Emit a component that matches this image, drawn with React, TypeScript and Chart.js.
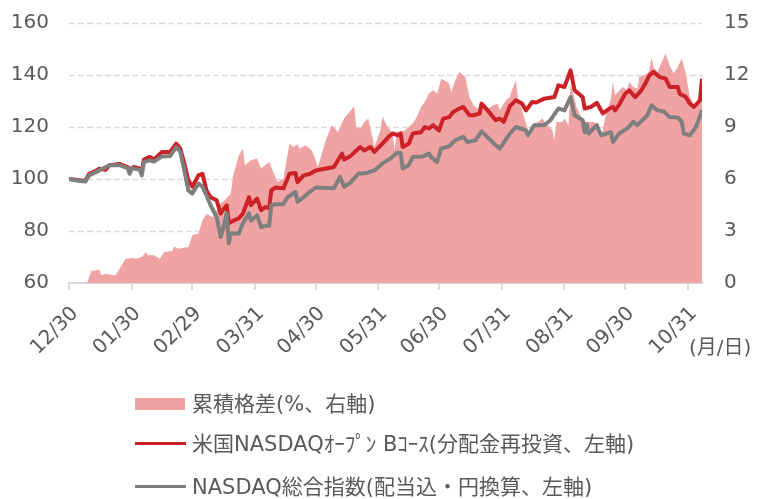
import React, { useEffect, useRef } from "react";
import { Chart, registerables } from "chart.js";

Chart.register(...registerables);

// x positions are calendar-day offsets from 12/30
const tickDays = [0, 31, 61, 92, 122, 153, 183, 214, 245, 275, 306];
const tickLabels = ["12/30", "01/30", "02/29", "03/31", "04/30", "05/31", "06/30", "07/31", "08/31", "09/30", "10/31"];

const fundDays = [0, 4, 8, 10, 13, 15, 18, 20, 25, 29, 30, 32, 35, 36, 37, 40, 42, 46, 50, 53, 55, 57, 59, 61, 64, 66, 68, 70, 73, 75, 76, 78, 79, 80, 84, 86, 89, 90, 93, 95, 97, 99, 100, 102, 106, 108, 109, 112, 113, 116, 119, 122, 131, 135, 136, 139, 144, 146, 149, 151, 155, 158, 160, 163, 164, 165, 168, 170, 174, 176, 178, 180, 183, 185, 188, 190, 193, 195, 198, 200, 203, 204, 207, 211, 213, 215, 218, 221, 224, 226, 229, 231, 235, 240, 242, 245, 248, 250, 254, 255, 258, 261, 264, 267, 269, 270, 272, 275, 277, 280, 283, 285, 287, 289, 292, 295, 297, 301, 302, 305, 307, 309, 312, 313];
const fundValues = [100, 99.6, 99.2, 102, 103, 104, 103.5, 105.3, 105.8, 104.6, 103.3, 104.6, 104, 102.5, 107.5, 108.5, 107.5, 110.4, 110.4, 113.6, 111.7, 106, 99.5, 97, 101.4, 102, 95.6, 93, 91.8, 86.7, 88, 89.9, 83, 83.5, 84.9, 86.7, 93, 89.9, 92.5, 88, 89.2, 88.8, 95.6, 96.7, 96.4, 100.1, 102, 102.3, 98.8, 101.4, 101.9, 103.3, 104.6, 109.8, 107.5, 108.7, 112.3, 111, 112.3, 110.4, 113.6, 116.2, 117.5, 116.8, 117.5, 112.3, 113.6, 117.5, 118, 120, 119.4, 120.7, 118.7, 123.2, 123.8, 125.8, 127.1, 127.7, 124.5, 124.5, 125.2, 129, 126.4, 122.6, 123.2, 122, 128, 130.3, 129, 126.4, 129.6, 129.4, 130.9, 131.5, 136, 135.4, 141.8, 134.1, 131.5, 127.1, 127.7, 129.3, 125.2, 127, 127.7, 126.4, 128.5, 132.8, 134.1, 131.5, 134.1, 136.7, 139.9, 141.2, 139.2, 138.6, 135.4, 135.4, 132.8, 131.5, 129, 127.7, 130.3, 138.6];

const indexDays = [0, 4, 8, 10, 15, 20, 25, 29, 30, 31, 35, 36, 37, 40, 42, 46, 50, 53, 55, 57, 59, 61, 64, 66, 68, 70, 73, 75, 76, 78, 79, 80, 84, 86, 89, 90, 93, 95, 97, 99, 100, 102, 106, 108, 112, 113, 116, 119, 122, 131, 134, 136, 139, 143, 147, 151, 155, 159, 162, 164, 165, 168, 170, 175, 178, 179, 182, 184, 188, 191, 195, 197, 201, 204, 211, 213, 218, 221, 226, 227, 230, 235, 238, 242, 245, 248, 250, 254, 255, 256, 257, 261, 263, 268, 269, 272, 276, 279, 281, 286, 288, 291, 294, 297, 301, 303, 304, 307, 310, 313];
const indexValues = [100, 99.4, 99, 101.4, 103.3, 105.3, 105.3, 104.2, 102, 104.2, 103.5, 101.4, 106.5, 107.2, 106.7, 108.7, 108.8, 112.3, 110.5, 103.3, 95.6, 94.4, 98.3, 97, 93.7, 89.9, 85.4, 77.7, 80.3, 86.8, 75.3, 79, 79, 83, 86.8, 84, 86, 81.5, 82, 82, 89.9, 90.3, 90.3, 93, 95, 91.2, 93, 95, 96.7, 96.4, 100.8, 97, 98.5, 102, 102.3, 103.3, 106, 107.9, 110, 110, 104, 105.3, 108.5, 108.7, 109.8, 108.5, 106.5, 111.7, 112.6, 114.9, 116.2, 114.2, 114.9, 118.3, 113, 111.7, 117.5, 120, 118.7, 116.8, 120.7, 120.7, 122.6, 127.1, 126.4, 131.5, 124.5, 122.6, 118, 121, 117.5, 120.7, 116.8, 118, 114.2, 117.5, 119.4, 122, 120.7, 124.5, 128.3, 126.4, 126, 123.8, 123.7, 122, 117.5, 116.8, 120, 126.4];

const gapDays = [0, 8, 9, 11, 15, 16, 18, 22, 23, 24, 28, 32, 33, 36, 38, 39, 42, 45, 47, 51, 52, 54, 59, 61, 64, 66, 68, 71, 75, 77, 80, 81, 84, 86, 87, 90, 93, 95, 98, 99, 101, 103, 106, 109, 111, 113, 114, 117, 120, 122, 123, 127, 130, 133, 136, 141, 142, 144, 146, 148, 150, 151, 154, 155, 157, 160, 161, 162, 166, 170, 172, 174, 176, 178, 180, 182, 183, 184, 187, 188, 189, 191, 193, 196, 198, 200, 203, 205, 207, 210, 212, 213, 216, 218, 219, 221, 222, 224, 226, 228, 230, 232, 234, 236, 239, 240, 241, 244, 245, 247, 248, 251, 254, 256, 258, 260, 262, 264, 265, 268, 269, 270, 273, 274, 276, 277, 279, 281, 282, 284, 286, 287, 288, 289, 291, 292, 295, 297, 299, 301, 303, 305, 307, 310, 312, 313];
const gapValues = [0, 0, 0, 0.69, 0.77, 0.44, 0.54, 0.44, 0.44, 0.63, 1.4, 1.44, 1.4, 1.5, 1.79, 1.6, 1.6, 1.4, 1.79, 1.85, 2.1, 1.98, 2.08, 2.75, 2.85, 3.62, 4.0, 3.8, 4.6, 4.77, 5.16, 6.12, 7.37, 7.75, 6.79, 7.08, 7.18, 6.6, 6.89, 6.98, 6.4, 5.83, 6.0, 8.04, 7.85, 8.0, 7.75, 7.95, 7.66, 7.08, 6.69, 8.23, 9.1, 8.71, 9.49, 10.2, 9.0, 8.91, 9.29, 9.49, 8.42, 7.85, 8.81, 9.62, 9.1, 8.62, 7.66, 8.71, 8.8, 9.2, 9.58, 10.16, 10.45, 10.93, 11.12, 10.93, 11.31, 11.79, 11.6, 11.5, 11.02, 11.7, 12.18, 11.89, 10.73, 10.25, 9.97, 10.35, 10.06, 10.25, 10.35, 9.97, 10.54, 10.73, 11.12, 11.7, 10.64, 9.97, 9.2, 8.42, 9.2, 9.29, 9.49, 9.2, 8.81, 8.23, 9.29, 9.29, 9.49, 9.1, 11.5, 10.16, 9.39, 9.29, 9.29, 9.29, 8.42, 8.81, 9.49, 10.64, 11.6, 10.83, 11.21, 11.31, 11.12, 11.6, 11.31, 11.21, 11.89, 11.98, 12.08, 12.27, 13.04, 12.46, 12.18, 12.46, 13.24, 12.56, 12.08, 12.46, 12.95, 12.08, 10.73, 10.06, 10.83, 10.9];

const gapLabel = "累積格差(%、右軸)";
const fundLabel = "米国NASDAQｵｰﾌﾟﾝ Bｺｰｽ(分配金再投資、左軸)";
const indexLabel = "NASDAQ総合指数(配当込・円換算、左軸)";
const unitLabel = "(月/日)";

const GAP_COLOR = "#F0A3A3";
const FUND_COLOR = "#CC2127";
const INDEX_COLOR = "#7F7F7F";
const TEXT_COLOR = "#595959";
const GRID_COLOR = "#D9D9D9";
const FONT = "'DejaVu Sans', 'Noto Sans CJK JP', sans-serif";

const toPoints = (xs: number[], ys: number[]) => xs.map((x, i) => ({ x, y: ys[i] }));

// dashed horizontal grid drawn from the left scale's own ticks, beneath the datasets
const dashedGrid = {
  id: "dashedGrid",
  beforeDatasetsDraw(chart: any) {
    const s = chart.scales.y;
    const area = chart.chartArea;
    const ctx = chart.ctx;
    ctx.save();
    ctx.strokeStyle = GRID_COLOR;
    ctx.lineWidth = 1.3;
    ctx.setLineDash([6, 3]);
    s.ticks.forEach((t: any) => {
      if (t.value === s.min) return;
      const yy = Math.round(s.getPixelForValue(t.value)) + 0.5;
      ctx.beginPath();
      ctx.moveTo(area.left, yy);
      ctx.lineTo(area.right, yy);
      ctx.stroke();
    });
    ctx.restore();
  },
};

export default function App() {
  const ref = useRef<HTMLCanvasElement>(null);

  useEffect(() => {
    if (!ref.current) return;
    const chart = new Chart(ref.current, {
      type: "line",
      data: {
        datasets: [
          {
            label: gapLabel,
            data: toPoints(gapDays, gapValues),
            yAxisID: "y1",
            fill: "origin",
            backgroundColor: GAP_COLOR,
            borderColor: GAP_COLOR,
            borderWidth: 0,
            pointRadius: 0,
            tension: 0,
            order: 3,
          },
          {
            label: fundLabel,
            data: toPoints(fundDays, fundValues),
            yAxisID: "y",
            fill: false,
            borderColor: FUND_COLOR,
            borderWidth: 4,
            pointRadius: 0,
            tension: 0,
            borderJoinStyle: "round",
            order: 2,
          },
          {
            label: indexLabel,
            data: toPoints(indexDays, indexValues),
            yAxisID: "y",
            fill: false,
            borderColor: INDEX_COLOR,
            borderWidth: 4,
            pointRadius: 0,
            tension: 0,
            borderJoinStyle: "round",
            order: 1,
          },
        ],
      },
      options: {
        animation: false,
        responsive: false,
        maintainAspectRatio: false,
        layout: { padding: { top: 23, left: 0, right: 0, bottom: 0 } },
        plugins: { legend: { display: false }, tooltip: { enabled: false } },
        scales: {
          x: {
            type: "linear",
            min: 0,
            max: 313,
            afterBuildTicks: (s: any) => {
              s.ticks = tickDays.map((v) => ({ value: v }));
            },
            afterFit: (s: any) => {
              s.height = 216;
              s.paddingLeft = 0;
              s.paddingRight = 0;
            },
            ticks: {
              autoSkip: false,
              minRotation: 45,
              maxRotation: 45,
              padding: 12,
              labelOffset: 6,
              color: TEXT_COLOR,
              font: { family: FONT, size: 20 },
              callback: (v: any) => {
                const i = tickDays.indexOf(Number(v));
                return i >= 0 ? tickLabels[i] : "";
              },
            },
            grid: {
              drawOnChartArea: false,
              drawTicks: true,
              tickLength: 7,
              color: GRID_COLOR,
              lineWidth: 2,
            },
            border: { display: true, color: GRID_COLOR, width: 2 },
          },
          y: {
            position: "left",
            min: 60,
            max: 160,
            afterFit: (s: any) => {
              s.width = 69;
              s.paddingTop = 0;
              s.paddingBottom = 0;
            },
            ticks: {
              stepSize: 20,
              padding: 20,
              color: TEXT_COLOR,
              font: { family: FONT, size: 20 },
            },
            grid: { display: false, drawTicks: false },
            border: { display: false },
          },
          y1: {
            position: "right",
            min: 0,
            max: 15,
            afterFit: (s: any) => {
              s.width = 65;
              s.paddingTop = 0;
              s.paddingBottom = 0;
            },
            ticks: {
              stepSize: 3,
              padding: 22,
              color: TEXT_COLOR,
              font: { family: FONT, size: 20 },
            },
            grid: { display: false, drawTicks: false },
            border: { display: false },
          },
        },
      },
      plugins: [dashedGrid],
    });
    return () => chart.destroy();
  }, []);

  const textStyle: React.CSSProperties = {
    position: "absolute",
    left: 192,
    fontFamily: FONT,
    fontSize: 21,
    color: TEXT_COLOR,
    whiteSpace: "nowrap",
    lineHeight: "24px",
  };

  return (
    <div style={{ position: "absolute", left: 0, top: 0, width: 767, height: 499, background: "#fff" }}>
      <canvas ref={ref} width={767} height={499} style={{ display: "block" }} />
      <div style={{ ...textStyle, fontSize: 20, left: 689, top: 335 }}>{unitLabel}</div>
      <div style={{ position: "absolute", left: 135, top: 398, width: 50, height: 12, background: GAP_COLOR }} />
      <div style={{ ...textStyle, top: 392 }}>{gapLabel}</div>
      <div style={{ position: "absolute", left: 135, top: 442, width: 51, height: 3, background: FUND_COLOR }} />
      <div style={{ ...textStyle, top: 432 }}>{fundLabel}</div>
      <div style={{ position: "absolute", left: 135, top: 485, width: 51, height: 3, background: INDEX_COLOR }} />
      <div style={{ ...textStyle, top: 475 }}>{indexLabel}</div>
    </div>
  );
}
